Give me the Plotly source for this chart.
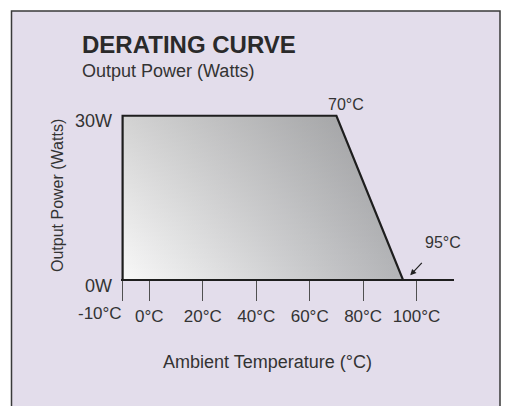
import plotly.graph_objects as go

# ---------------- data ----------------
derate_temp = [-10, -10, 70, 95]        # °C breakpoints of the derating curve
derate_power = [0, 30, 30, 0]           # W

x_tickvals = [-10, 0, 20, 40, 60, 80, 100]
x_ticktext = ["-10°C", "0°C", "20°C", "40°C", "60°C", "80°C", "100°C"]
y_tickvals = [0, 30]
y_ticktext = ["0W", "30W"]

title_text = "DERATING CURVE"
subtitle_text = "Output Power (Watts)"
y_title = "Output Power (Watts)"
x_title = "Ambient Temperature (°C)"
knee_label = "70°C"
end_label = "95°C"

# ---------------- layout constants ----------------
OFF = 8                                  # page body margin of the html page
W, H = 513 - OFF, 406 - OFF
# plot area in screen pixels
SL, SR, ST, SB = 121, 454, 113, 282
PL, PR, PT, PB = SL - OFF, SR - OFF, ST - OFF, SB - OFF
XR = [-10.6, 114]
YR = [-0.3, 30.5]

def px_x(sx):
    return (sx - OFF - PL) / (PR - PL)

def px_y(sy):
    return (PB - (sy - OFF)) / (PB - PT)

TXT = "#333333"
REG = "Liberation Sans, Arial, Helvetica, sans-serif"

poly_x = derate_temp + [derate_temp[0]]
poly_y = derate_power + [derate_power[0]]

fig = go.Figure()
fig.add_trace(go.Scatter(
    x=poly_x, y=poly_y, mode="lines", fill="toself",
    line=dict(width=0, color="rgba(0,0,0,0)"),
    fillgradient=dict(type="horizontal",
                      colorscale=[[0, "#f8f8f8"], [1, "#b3b4b7"]]),
    hoverinfo="skip", showlegend=False))
fig.add_trace(go.Scatter(
    x=poly_x, y=poly_y, mode="lines", fill="toself",
    line=dict(width=0, color="rgba(0,0,0,0)"),
    fillgradient=dict(type="vertical",
                      colorscale=[[0, "rgba(0,0,0,0)"], [1, "rgba(0,0,0,0.15)"]]),
    hoverinfo="skip", showlegend=False))
fig.add_trace(go.Scatter(
    x=derate_temp, y=derate_power, mode="lines",
    line=dict(color="#1e1e1e", width=2.2),
    hoverinfo="skip", showlegend=False))

shapes = [
    # lavender panel
    dict(type="rect", xref="paper", yref="paper",
         x0=px_x(11.5), x1=px_x(500), y0=px_y(11), y1=px_y(420),
         fillcolor="#e3ddeb", line=dict(color="#3a3a3a", width=1.5), layer="below"),
    # black bar at right edge
    dict(type="rect", xref="paper", yref="paper",
         x0=px_x(508), x1=px_x(514), y0=px_y(24), y1=px_y(420),
         fillcolor="#1c1c1c", line=dict(width=0), layer="above"),
]

annotations = [
    dict(text=title_text, xref="paper", yref="paper", x=px_x(80), y=px_y(45),
         xanchor="left", yanchor="middle", showarrow=False,
         font=dict(family=REG, size=24, color="#2a2a2a", weight="bold")),
    dict(text=subtitle_text, xref="paper", yref="paper", x=px_x(80), y=px_y(71),
         xanchor="left", yanchor="middle", showarrow=False,
         font=dict(family=REG, size=18, color=TXT)),
    dict(text=y_title, xref="paper", yref="paper", x=px_x(57), y=px_y(196),
         xanchor="center", yanchor="middle", textangle=-90, showarrow=False,
         font=dict(family=REG, size=16, color=TXT)),
    dict(text=x_title, xref="paper", yref="paper", x=px_x(267), y=px_y(362),
         xanchor="center", yanchor="middle", showarrow=False,
         font=dict(family=REG, size=18, color=TXT)),
    dict(text=knee_label, x=derate_temp[2], y=derate_power[2], xref="x", yref="y",
         xanchor="center", yanchor="middle", xshift=10, yshift=11, showarrow=False,
         font=dict(family=REG, size=16, color=TXT)),
    dict(text=end_label, x=derate_temp[3], y=derate_power[3], xref="x", yref="y",
         xanchor="center", yanchor="middle", xshift=40, yshift=38, showarrow=False,
         font=dict(family=REG, size=16, color=TXT)),
    dict(text="", x=derate_temp[3], y=derate_power[3], xref="x", yref="y",
         xshift=7, yshift=5, showarrow=True, ax=13, ay=-14,
         arrowhead=2, arrowsize=1, arrowwidth=1.2, arrowcolor="#222"),
    dict(text=x_ticktext[0], x=x_tickvals[0], y=0, xref="x", yref="y",
         xanchor="right", yanchor="middle", xshift=1, yshift=-33, showarrow=False,
         font=dict(family=REG, size=17, color=TXT)),
]

fig.update_layout(
    width=W, height=H,
    margin=dict(l=PL, r=W - PR, t=PT, b=H - PB, pad=0, autoexpand=False),
    paper_bgcolor="white", plot_bgcolor="rgba(0,0,0,0)",
    showlegend=False, hovermode=False,
    shapes=shapes, annotations=annotations,
    xaxis=dict(range=XR, anchor="free", position=(0 - YR[0]) / (YR[1] - YR[0]),
               showgrid=False, zeroline=False, automargin=False,
               showline=True, linecolor="#1e1e1e", linewidth=2,
               ticks="outside", ticklen=20, tickwidth=1.3, tickcolor="#505050",
               tickvals=x_tickvals, ticktext=[""] + x_ticktext[1:],
               tickfont=dict(family=REG, size=17, color=TXT), fixedrange=True),
    yaxis=dict(range=YR, showgrid=False, zeroline=False, showline=False,
               automargin=False,
               ticks="", tickvals=y_tickvals, ticktext=y_ticktext,
               ticklabelstandoff=8, ticklabelshift=5,
               tickfont=dict(family=REG, size=18, color=TXT), fixedrange=True),
)

fig.write_html("out.html")
